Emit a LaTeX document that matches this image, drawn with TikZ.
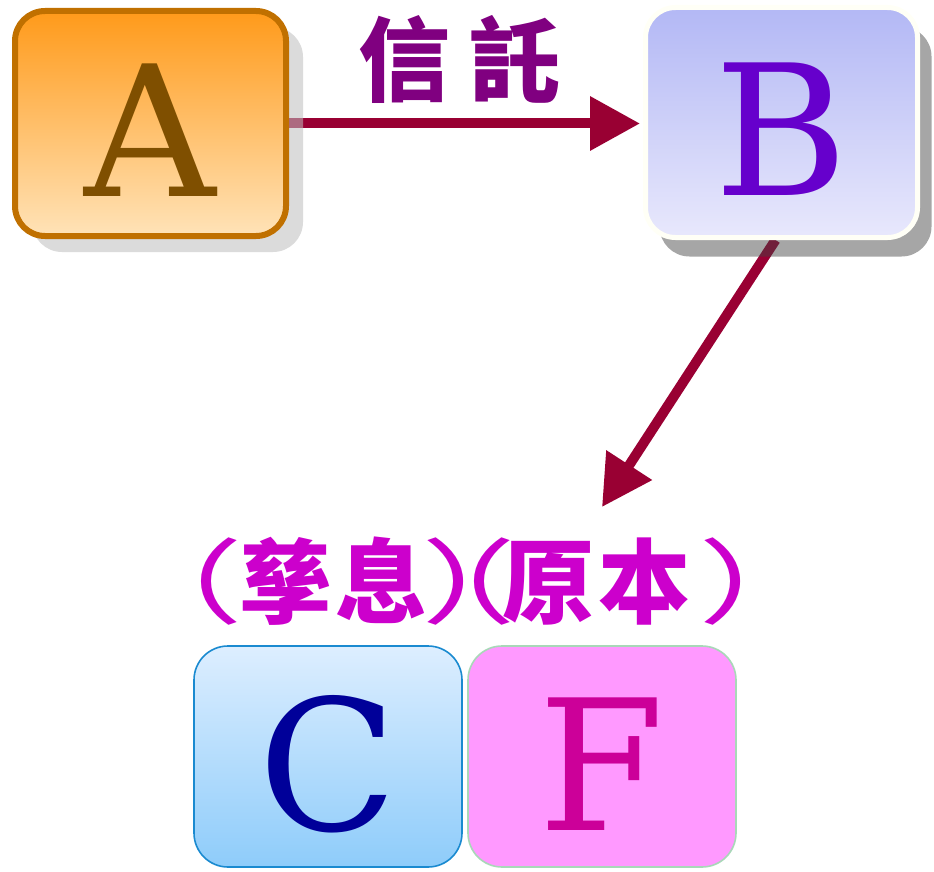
\documentclass[tikz,border=0pt]{standalone}
\usepackage{fontspec}
\usepackage{graphicx}
\setmainfont{DejaVu Serif}
\newfontfamily\cjk[RawFeature=+palt]{Noto Sans CJK TC}
\usetikzlibrary{arrows.meta,shadows,backgrounds}
\definecolor{Abord}{HTML}{C07000}
\definecolor{Atop}{HTML}{FF9A1A}
\definecolor{Abot}{HTML}{FFE3B8}
\definecolor{Atext}{HTML}{7F4F00}
\definecolor{Btop}{HTML}{B3B8F5}
\definecolor{Bbot}{HTML}{E8E8FC}
\definecolor{Bbord}{HTML}{FFFFF6}
\definecolor{Btext}{HTML}{6600CC}
\definecolor{Ctop}{HTML}{DDEEFF}
\definecolor{Cbot}{HTML}{8ECCFA}
\definecolor{Cbord}{HTML}{1A8AD0}
\definecolor{Ctext}{HTML}{000099}
\definecolor{Ffill}{HTML}{FF99FF}
\definecolor{Fbord}{HTML}{A8D8B8}
\definecolor{Ftext}{HTML}{CC0099}
\definecolor{labone}{HTML}{800080}
\definecolor{labtwo}{HTML}{CC00CC}
\definecolor{arrc}{HTML}{990033}
\definecolor{shA}{HTML}{BEBEBE}
\definecolor{shB}{HTML}{424242}
\newcommand\glc[2]{\makebox[0pt][c]{#1}\hspace{#2pt}}
\newcommand\wprn[1]{{\mdseries\scalebox{1.5}[1]{#1}}}
\begin{document}
\begin{tikzpicture}[x=1pt,y=-1pt,
  letterbox/.style={rectangle, rounded corners=30pt, inner sep=0pt,
    font=\fontsize{182}{182}\selectfont, text height=145pt, text depth=0pt},
  boxA/.style={letterbox, draw=Abord, line width=6pt, top color=Atop, bottom color=Abot,
    minimum width=271pt, minimum height=225pt, text=Atext,
    general shadow={fill=shA, fill opacity=0.56, shadow xshift=17pt, shadow yshift=-16pt}},
  boxB/.style={letterbox, draw=Bbord, line width=5pt, top color=Btop, bottom color=Bbot,
    minimum width=272pt, minimum height=230pt, text=Btext,
    general shadow={fill=shB, fill opacity=0.47, shadow xshift=14pt, shadow yshift=-19pt}},
  boxC/.style={letterbox, rounded corners=34pt, draw=Cbord, line width=1.6pt, top color=Ctop, bottom color=Cbot,
    minimum width=268pt, minimum height=221pt, text=Ctext, text height=152pt, text depth=4pt},
  boxF/.style={letterbox, rounded corners=34pt, draw=Fbord, line width=1.6pt, fill=Ffill,
    minimum width=268pt, minimum height=221pt, text=Ftext, text height=152pt, text depth=4pt},
  cjklab/.style={inner sep=0pt, font=\cjk\bfseries\fontsize{92}{92}\selectfont},
  arr/.style={draw=arrc, line width=10pt, -{Triangle[length=50pt,width=52pt]}}
]
\useasboundingbox (0,0) rectangle (934,872);
\node[boxA] (A) at (150.5,123.5) {A};
\node[boxB] (B) at (781.5,122.5) {B};
\node[boxC] (C) at (328,756.5) {C};
\node[boxF] (F) at (602,756.5) {F};
\node[cjklab, text=labone] (t1) at (460,59) {信\hspace{20pt}託};
\node[cjklab, text=labtwo] (t2) at (471,581)
  {\glc{\wprn{（}}{81}\glc{孳}{97}\glc{息}{79}\glc{\wprn{）}}{16}\glc{\wprn{（}}{71}\glc{原}{97}\glc{本}{93}\makebox[0pt][c]{\wprn{）}}};
\coordinate (tipC) at (602,507);
\begin{scope}[on background layer]
\draw[arr, shorten >=3pt] (A.east) -- (A.east -| B.west);
\draw[arr] ([xshift=-6pt]B.south) -- (tipC);
\end{scope}
\end{tikzpicture}
\end{document}
